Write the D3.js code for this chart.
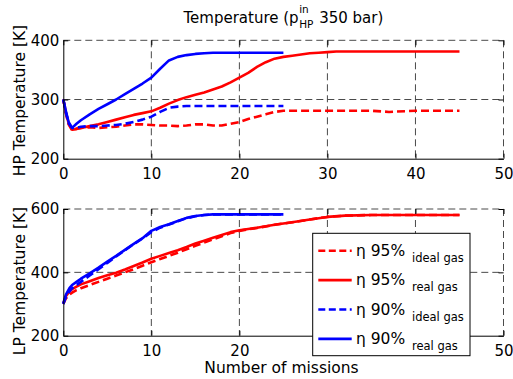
<!DOCTYPE html>
<html>
<head>
<meta charset="utf-8">
<script src="https://cdn.jsdelivr.net/npm/d3@7"></script>
<style>
  body { margin: 0; background: #fff; }
  svg { display: block; }
</style>
</head>
<body>
<svg width="513" height="379"></svg>
<script>
// HP tank temperature
var hpReal95X = [0,0.3,0.6,1,1.5,2,3,4,5,6,7,8,9,10,11,12,13,14,15,16,17,18,19,20,21,22,23,24,25,26,27,28,29,30,31,33,36,40,45];
var hpReal95T = [300,278,260,249,250,252,255,258,262,266,270,274,277,280,286,293,299,304,308,312,317,322,329,337,345,355,363,369,372,374,376,378,379,380,381,381,381,381,381];
var hpIdeal95X = [0,0.3,0.6,1,1.5,2,3,4,5,6,7,8,9,10,11,12,13,14,15,16,17,18,19,20,21,22,23,24,25,27,30,35,37,40,45];
var hpIdeal95T = [300,276,258,248,251,252,253,252,253,254,256,258,258,257,256,256,255,256,258,258,256,256,259,262,267,271,275,279,281,281,281,281,279,281,281];
var hpIdeal90X = [0,0.3,0.6,1,1.5,2,3,4,5,6,7,8,9,10,11,12,13,14,15,17,20,23,25];
var hpIdeal90T = [300,278,260,252,252,254,255,255,256,257,259,262,266,271,279,286,288,289,289,289,289,289,289];
var hpReal90X = [0,0.3,0.6,1,1.5,2,3,4,5,6,7,8,9,10,11,12,13,14,15,16,17,20,25];
var hpReal90T = [300,280,262,252,259,265,275,284,292,300,309,318,327,337,352,366,372,375,377,378,379,379,379];

// LP tank temperature
var lpX = [0,0.3,0.7,1,1.5,2,3,4,5,6,7,8,9,10,11,12,13,14,15,16,17,18,19,20,21,22,24,26,28,30,32,35,40,45];
var lpReal95T = [302,325,340,347,355,362,372,382,391,399,409,420,431,443,452,461,470,480,491,500,509,518,527,533,537,541,550,558,567,575,579,581,581,581];
var lpIdeal95T = [300,318,330,336,344,350,360,370,380,390,400,410,421,432,442,452,462,473,484,494,504,514,524,531,536,540,550,558,567,575,579,581,581,581];
var lp90X = [0,0.3,0.7,1,1.5,2,3,4,5,6,7,8,9,10,11,12,13,14,15,16,17,18,20,25];
var lpReal90T = [302,330,350,360,370,380,397,415,434,452,471,490,508,531,543,552,562,572,578,581,583,583,583,583];
var lpIdeal90T = [300,322,340,350,360,370,390,410,430,450,470,489,507,527,541,551,561,571,577,581,583,583,583,583];

var xTicks = [0,10,20,30,40,50];
var hpTicks = [200,300,400];
var lpTicks = [200,400,600];

var legendNames = ['η 95%', 'η 95%', 'η 90%', 'η 90%'];
var legendSubs = ['ideal gas', 'real gas', 'ideal gas', 'real gas'];
var legendColors = ['#ff0000', '#ff0000', '#0000ff', '#0000ff'];
var legendDashed = [true, false, true, false];

const svg = d3.select('svg');
const font = 'DejaVu Sans, sans-serif';

const x = d3.scaleLinear().domain([0, 50]).range([63.3, 503.5]);
const yHP = d3.scaleLinear().domain([200, 400]).range([158.7, 40.3]);
const yLP = d3.scaleLinear().domain([200, 600]).range([335.7, 209]);

// legend box (also hides the tick labels it sits on)
const legendBox = { x: 312.7, y: 233.3, w: 157.3, h: 122.4 };

function zip(xs, ys) { return xs.map((v, i) => [v, ys[i]]); }

function panel(y, ticks, series, label, labelY) {
  const g = svg.append('g');
  const top = y.range()[1], bottom = y.range()[0];
  const left = x.range()[0], right = x.range()[1];

  // grid
  g.append('g').selectAll('line').data(xTicks.slice(1)).enter().append('line')
    .attr('x1', d => x(d)).attr('x2', d => x(d))
    .attr('y1', top).attr('y2', bottom)
    .attr('stroke', '#4a4a4a').attr('stroke-width', 1).attr('stroke-dasharray', '7,4');
  g.append('g').selectAll('line').data(ticks.slice(1)).enter().append('line')
    .attr('y1', d => y(d)).attr('y2', d => y(d))
    .attr('x1', left).attr('x2', right)
    .attr('stroke', '#4a4a4a').attr('stroke-width', 1).attr('stroke-dasharray', '7,4');

  // data
  const line = d3.line().x(d => x(d[0])).y(d => y(d[1]));
  series.forEach(s => {
    g.append('path')
      .attr('d', line(zip(s.x, s.t)))
      .attr('fill', 'none')
      .attr('stroke', s.color)
      .attr('stroke-width', 2.6)
      .attr('stroke-linejoin', 'round')
      .attr('stroke-dasharray', s.dashed ? '8,4' : null);
  });

  // axes
  const ax = g.append('g').attr('transform', `translate(0,${bottom})`)
    .call(d3.axisBottom(x).tickValues(xTicks).tickSizeInner(-5).tickSizeOuter(0).tickPadding(9.8));
  const ay = g.append('g').attr('transform', `translate(${left},0)`)
    .call(d3.axisLeft(y).tickValues(ticks).tickSizeInner(-5).tickSizeOuter(0).tickPadding(4));
  const at = g.append('g').attr('transform', `translate(0,${top})`)
    .call(d3.axisTop(x).tickValues(xTicks).tickSizeInner(-5).tickSizeOuter(0).tickFormat(''));
  const ar = g.append('g').attr('transform', `translate(${right},0)`)
    .call(d3.axisRight(y).tickValues(ticks).tickSizeInner(-5).tickSizeOuter(0).tickFormat(''));
  at.select('.domain').remove();
  ar.select('.domain').remove();
  [ax, ay, at, ar].forEach(a => {
    a.attr('font-family', font).attr('font-size', 15);
    a.selectAll('text').attr('fill', '#000');
    a.selectAll('line').attr('stroke', '#000');
    a.select('.domain').attr('stroke', '#000');
  });

  // tick labels covered by the legend are not visible in the original
  ax.selectAll('.tick').filter(d => {
    const px = x(d);
    return bottom + 20 > legendBox.y && bottom < legendBox.y + legendBox.h &&
      px > legendBox.x && px < legendBox.x + legendBox.w;
  }).select('text').remove();

  svg.append('text')
    .attr('transform', `translate(24.5,${labelY}) rotate(-90)`)
    .attr('text-anchor', 'middle')
    .attr('font-family', font).attr('font-size', 15.5)
    .text(label);
}

panel(yHP, hpTicks, [
  { x: hpIdeal95X, t: hpIdeal95T, color: '#ff0000', dashed: true },
  { x: hpReal95X, t: hpReal95T, color: '#ff0000', dashed: false },
  { x: hpIdeal90X, t: hpIdeal90T, color: '#0000ff', dashed: true },
  { x: hpReal90X, t: hpReal90T, color: '#0000ff', dashed: false }
], 'HP Temperature [K]', 100.5);

panel(yLP, lpTicks, [
  { x: lpX, t: lpIdeal95T, color: '#ff0000', dashed: true },
  { x: lpX, t: lpReal95T, color: '#ff0000', dashed: false },
  { x: lp90X, t: lpIdeal90T, color: '#0000ff', dashed: true },
  { x: lp90X, t: lpReal90T, color: '#0000ff', dashed: false }
], 'LP Temperature [K]', 281);

// title: "Temperature (p^in_HP 350 bar)"
const title = svg.append('g').attr('font-family', font);
const t1 = title.append('text').attr('y', 22.5).attr('font-size', 15).text('Temperature (p');
const tSup = title.append('text').attr('y', 12.5).attr('font-size', 10.5).text('in');
const tSub = title.append('text').attr('y', 27.5).attr('font-size', 10.5).text('HP');
const t3 = title.append('text').attr('y', 22.5).attr('font-size', 15).text('\u00a0350 bar)');
const w1 = t1.node().getComputedTextLength();
const wS = Math.max(tSup.node().getComputedTextLength(), tSub.node().getComputedTextLength());
const w3 = t3.node().getComputedTextLength();
const total = w1 + 0.5 + wS + 1 + w3;
const x0 = (x.range()[0] + x.range()[1]) / 2 - total / 2;
t1.attr('x', x0);
tSup.attr('x', x0 + w1 + 0.5);
tSub.attr('x', x0 + w1 + 0.5);
t3.attr('x', x0 + w1 + 0.5 + wS + 1);

// x label
svg.append('text')
  .attr('x', 281.5).attr('y', 373)
  .attr('text-anchor', 'middle')
  .attr('font-family', font).attr('font-size', 15.5)
  .text('Number of missions');

// legend
const lg = svg.append('g').attr('font-family', font);
lg.append('rect')
  .attr('x', legendBox.x).attr('y', legendBox.y).attr('width', legendBox.w).attr('height', legendBox.h)
  .attr('fill', '#fff').attr('stroke', '#000').attr('stroke-width', 1);
const rows = lg.selectAll('g.row').data(legendNames).enter().append('g')
  .attr('class', 'row')
  .attr('transform', (d, i) => `translate(0,${250.7 + i * 29.4})`);
rows.append('line')
  .attr('x1', 318.3).attr('x2', 351.7)
  .attr('stroke', (d, i) => legendColors[i])
  .attr('stroke-width', 2.6)
  .attr('stroke-dasharray', (d, i) => legendDashed[i] ? '7,3.5' : null);
rows.append('text')
  .attr('x', 356).attr('y', 5)
  .attr('font-size', 15.5)
  .text(d => d);
rows.append('text')
  .attr('x', 412).attr('y', 11)
  .attr('font-size', 11.5)
  .text((d, i) => legendSubs[i]);
</script>
</body>
</html>
